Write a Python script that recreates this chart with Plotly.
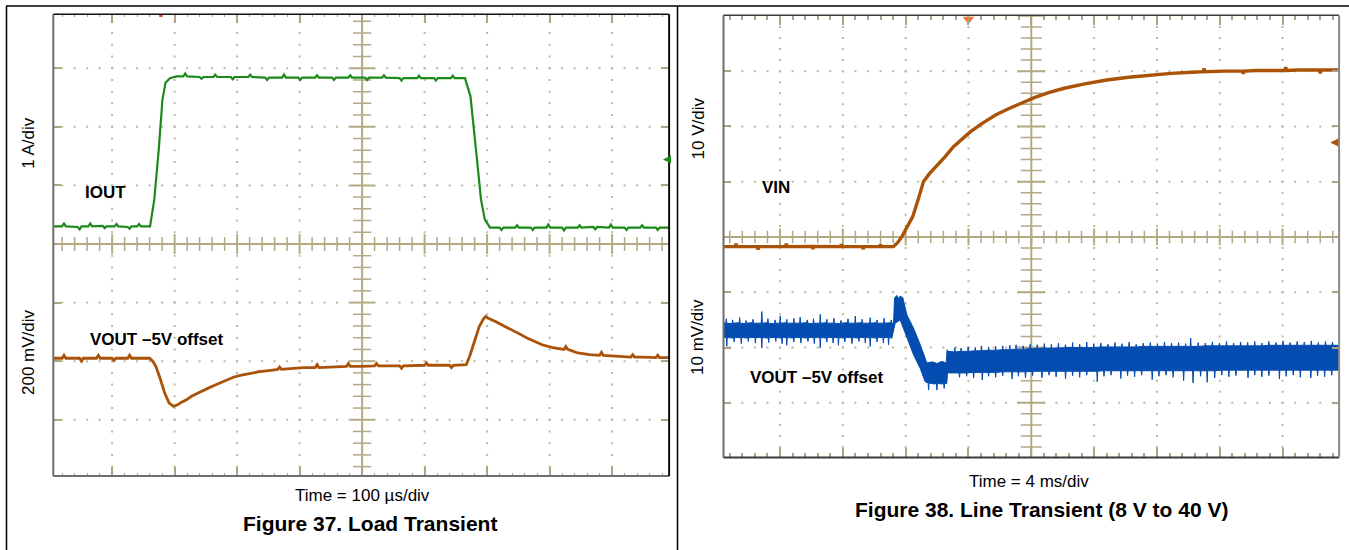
import numpy as np
import plotly.graph_objects as go

W, H = 1349, 550

# ---------------- Figure 37 : Load Transient (time in µs, amplitude in screen divisions) -------------
iout_pts = [(6, 0.30), (20, 0.30), (23, 0.35), (26, 0.30), (45, 0.29), (48, 0.25), (51, 0.30),
            (62, 0.30), (65, 0.35), (68, 0.30), (85, 0.31), (88, 0.27), (91, 0.30), (104, 0.30),
            (107, 0.34), (110, 0.30), (125, 0.29), (128, 0.26), (131, 0.30), (140, 0.30),
            (143, 0.34), (146, 0.30), (160.7, 0.30), (167.5, 0.76), (174.6, 1.61), (180.5, 2.46),
            (185.4, 2.75), (192.4, 2.83), (203, 2.86), (214, 2.86), (217, 2.91), (220, 2.86),
            (240, 2.85), (243, 2.82), (246, 2.85), (262, 2.85), (265, 2.89), (268, 2.85),
            (290, 2.85), (293, 2.81), (296, 2.85), (318, 2.85), (321, 2.89), (324, 2.85),
            (345, 2.84), (348, 2.80), (351, 2.84), (372, 2.84), (375, 2.89), (378, 2.84),
            (398, 2.84), (401, 2.80), (404, 2.84), (425, 2.84), (428, 2.88), (431, 2.84),
            (452, 2.84), (455, 2.80), (458, 2.84), (478, 2.84), (481, 2.88), (484, 2.84),
            (505, 2.84), (508, 2.80), (511, 2.84), (532, 2.84), (535, 2.88), (538, 2.84),
            (560, 2.83), (563, 2.79), (566, 2.83), (588, 2.83), (591, 2.87), (594, 2.83),
            (615, 2.83), (618, 2.79), (621, 2.83), (642, 2.83), (645, 2.87), (648, 2.83),
            (664.6, 2.83), (673.4, 2.52), (683.8, 1.44), (690.2, 0.76), (696.3, 0.42),
            (704.6, 0.28), (720, 0.28), (723, 0.24), (726, 0.28), (745, 0.28), (748, 0.32),
            (751, 0.28), (770, 0.28), (773, 0.24), (776, 0.28), (795, 0.28), (798, 0.33),
            (801, 0.28), (820, 0.28), (823, 0.23), (826, 0.28), (845, 0.28), (848, 0.32),
            (851, 0.28), (870, 0.29), (873, 0.25), (876, 0.29), (895, 0.28), (898, 0.33),
            (901, 0.28), (920, 0.28), (923, 0.24), (926, 0.28), (945, 0.28), (948, 0.32),
            (951, 0.28), (970, 0.28), (973, 0.24), (976, 0.28), (991, 0.28)]

vout37_pts = [(6, -1.95), (20, -1.95), (23, -1.90), (26, -1.95), (48, -1.95), (51, -2.00),
              (54, -1.95), (75, -1.95), (78, -1.90), (81, -1.95), (100, -1.95), (103, -1.99),
              (106, -1.95), (125, -1.95), (128, -1.90), (131, -1.95), (148, -1.95), (160, -1.95),
              (165, -2.00), (170, -2.09), (177, -2.30), (184, -2.54), (191, -2.71), (198, -2.77),
              (204, -2.75), (211, -2.70), (219, -2.66), (227, -2.60), (236, -2.55), (245, -2.50),
              (254, -2.46), (264, -2.41), (275, -2.36), (285, -2.31), (295, -2.27), (307, -2.24),
              (320, -2.21), (335, -2.18), (351, -2.16), (365, -2.14), (368, -2.10), (371, -2.14),
              (380, -2.13), (406, -2.11), (425, -2.11), (428, -2.06), (431, -2.11), (450, -2.10),
              (475, -2.09), (478, -2.04), (481, -2.09), (497, -2.09), (520, -2.08), (523, -2.04),
              (526, -2.08), (560, -2.08), (563, -2.12), (566, -2.08), (600, -2.07), (603, -2.03),
              (606, -2.07), (640, -2.07), (643, -2.11), (646, -2.07), (666.6, -2.06),
              (672, -1.92), (677, -1.75), (687.4, -1.41), (694, -1.28), (697.8, -1.235),
              (702, -1.27), (715, -1.33), (727, -1.40), (739, -1.46), (751, -1.53), (763, -1.60),
              (775, -1.66), (788, -1.72), (805, -1.77), (823, -1.80), (826, -1.75), (829, -1.80),
              (845, -1.86), (864, -1.89), (880, -1.90), (883, -1.85), (886, -1.90), (913, -1.92),
              (930, -1.93), (933, -1.89), (936, -1.93), (950, -1.93), (970, -1.94), (973, -1.90),
              (976, -1.94), (991, -1.94)]

# ---------------- Figure 38 : Line Transient (time in ms, amplitude in screen divisions) -------------
vin_pts = [(0.4, -0.175), (1.15, -0.175), (1.2, -0.12), (1.25, -0.175), (2.55, -0.175),
           (2.6, -0.23), (2.65, -0.175), (4.35, -0.175), (4.4, -0.12), (4.45, -0.175),
           (6.05, -0.17), (6.1, -0.22), (6.15, -0.17), (7.85, -0.175), (7.9, -0.13),
           (7.95, -0.175), (9.25, -0.175), (9.3, -0.22), (9.35, -0.175), (10.35, -0.175),
           (10.4, -0.13), (10.45, -0.175), (11.22, -0.175), (11.5, -0.10), (11.76, 0.005),
           (12.1, 0.18), (12.45, 0.367), (12.8, 0.68), (13.13, 1.0), (13.5, 1.14), (13.94, 1.27),
           (14.5, 1.45), (15.03, 1.63), (15.55, 1.77), (16.11, 1.90), (16.9, 2.06), (17.75, 2.21),
           (18.55, 2.32), (19.38, 2.42), (20.19, 2.52), (21.1, 2.61), (22.1, 2.69), (23.4, 2.77),
           (24.81, 2.84), (26.2, 2.89), (27.53, 2.93), (28.9, 2.96), (30.24, 2.98), (30.95, 2.99),
           (31.0, 3.05), (31.05, 2.99), (32.3, 3.0), (33.45, 3.0), (33.5, 2.95), (33.55, 3.0),
           (34.32, 3.01), (36.15, 3.01), (36.2, 3.07), (36.25, 3.01), (37.0, 3.02), (38.35, 3.02),
           (38.4, 2.96), (38.45, 3.02), (39.6, 3.02)]

vout38_upper = [
    (0.40, -1.56), (0.55, -1.55), (0.58, -1.48), (0.61, -1.56), (0.95, -1.57), (0.98, -1.50),
    (1.01, -1.56), (1.40, -1.55), (1.43, -1.46), (1.46, -1.56), (1.80, -1.57), (1.83, -1.51),
    (1.86, -1.56), (2.25, -1.55), (2.28, -1.49), (2.31, -1.56), (2.80, -1.56), (2.84, -1.35),
    (2.88, -1.56), (3.20, -1.55), (3.23, -1.48), (3.26, -1.56), (3.65, -1.57), (3.68, -1.50),
    (3.71, -1.56), (3.98, -1.56), (4.01, -1.43), (4.04, -1.56), (4.40, -1.55), (4.43, -1.49),
    (4.46, -1.56), (4.85, -1.56), (4.88, -1.47), (4.91, -1.56), (5.25, -1.56), (5.28, -1.45),
    (5.31, -1.56), (5.70, -1.55), (5.73, -1.50), (5.76, -1.56), (6.10, -1.57), (6.13, -1.48),
    (6.16, -1.56), (6.53, -1.56), (6.56, -1.40), (6.59, -1.56), (6.95, -1.55), (6.98, -1.49),
    (7.01, -1.56), (7.40, -1.56), (7.43, -1.47), (7.46, -1.56), (7.85, -1.57), (7.88, -1.51),
    (7.91, -1.56), (8.30, -1.55), (8.33, -1.48), (8.36, -1.56), (8.76, -1.56), (8.79, -1.43),
    (8.82, -1.56), (9.20, -1.55), (9.23, -1.49), (9.26, -1.56), (9.71, -1.56), (9.74, -1.46),
    (9.77, -1.56), (10.15, -1.55), (10.18, -1.50), (10.21, -1.56), (10.60, -1.56),
    (10.63, -1.47), (10.66, -1.56), (11.05, -1.55), (11.08, -1.50), (11.11, -1.56),
    (11.23, -1.56), (11.29, -1.10), (11.45, -1.06), (11.55, -1.12), (11.65, -1.07),
    (11.82, -1.10), (12.08, -1.41), (12.5, -1.65), (12.93, -1.95), (13.24, -2.22),
    (13.35, -2.28), (13.7, -2.26), (14.0, -2.29), (14.3, -2.25), (14.58, -2.28), (14.64, -2.04),
    (14.70, -2.07), (15.10, -2.08), (15.13, -2.00), (15.16, -2.08), (15.50, -2.07),
    (15.53, -2.01), (15.56, -2.07), (15.95, -2.07), (15.98, -1.99), (16.01, -2.07),
    (16.40, -2.06), (16.43, -2.00), (16.46, -2.06), (16.80, -2.06), (16.83, -1.97),
    (16.86, -2.06), (17.25, -2.05), (17.28, -1.99), (17.31, -2.05), (17.70, -2.05),
    (17.73, -1.98), (17.76, -2.05), (18.15, -2.04), (18.18, -1.97), (18.21, -2.04),
    (18.60, -2.04), (18.63, -1.96), (18.66, -2.04), (19.00, -2.03), (19.03, -1.95),
    (19.06, -2.03), (19.45, -2.03), (19.48, -1.97), (19.51, -2.03), (19.90, -2.02),
    (19.93, -1.94), (19.96, -2.02), (20.35, -2.02), (20.38, -1.95), (20.41, -2.02),
    (20.80, -2.01), (20.83, -1.93), (20.86, -2.01), (21.25, -2.01), (21.28, -1.94),
    (21.31, -2.01), (21.70, -2.01), (21.73, -1.92), (21.76, -2.01), (22.15, -2.00),
    (22.18, -1.95), (22.21, -2.00), (22.60, -2.00), (22.63, -1.91), (22.66, -2.00),
    (23.05, -2.00), (23.08, -1.94), (23.11, -2.00), (23.50, -2.00), (23.53, -1.90),
    (23.56, -2.00), (23.95, -2.00), (23.98, -1.93), (24.01, -2.00), (24.40, -1.99),
    (24.43, -1.92), (24.46, -1.99), (24.85, -1.99), (24.88, -1.94), (24.91, -1.99),
    (25.30, -1.99), (25.33, -1.91), (25.36, -1.99), (25.75, -1.99), (25.78, -1.93),
    (25.81, -1.99), (26.20, -1.99), (26.23, -1.90), (26.26, -1.99), (26.65, -1.99),
    (26.68, -1.94), (26.71, -1.99), (27.10, -1.98), (27.13, -1.92), (27.16, -1.98),
    (27.55, -1.98), (27.58, -1.91), (27.61, -1.98), (28.00, -1.98), (28.03, -1.93),
    (28.06, -1.98), (28.45, -1.98), (28.48, -1.90), (28.51, -1.98), (28.90, -1.98),
    (28.93, -1.92), (28.96, -1.98), (29.35, -1.98), (29.38, -1.91), (29.41, -1.98),
    (29.80, -1.98), (29.83, -1.93), (29.86, -1.98), (30.12, -1.98), (30.15, -1.83),
    (30.18, -1.98), (30.60, -1.98), (30.63, -1.91), (30.66, -1.98), (31.05, -1.97),
    (31.08, -1.92), (31.11, -1.97), (31.50, -1.97), (31.53, -1.90), (31.56, -1.97),
    (31.95, -1.97), (31.98, -1.92), (32.01, -1.97), (32.40, -1.97), (32.43, -1.89),
    (32.46, -1.97), (32.85, -1.97), (32.88, -1.92), (32.91, -1.97), (33.30, -1.97),
    (33.33, -1.90), (33.36, -1.97), (33.75, -1.97), (33.78, -1.91), (33.81, -1.97),
    (34.20, -1.97), (34.23, -1.89), (34.26, -1.97), (34.65, -1.97), (34.68, -1.92),
    (34.71, -1.97), (35.10, -1.96), (35.13, -1.89), (35.16, -1.96), (35.55, -1.96),
    (35.58, -1.91), (35.61, -1.96), (36.00, -1.96), (36.03, -1.88), (36.06, -1.96),
    (36.45, -1.96), (36.48, -1.91), (36.51, -1.96), (36.90, -1.96), (36.93, -1.89),
    (36.96, -1.96), (37.35, -1.96), (37.38, -1.90), (37.41, -1.96), (37.80, -1.96),
    (37.83, -1.88), (37.86, -1.96), (38.25, -1.96), (38.28, -1.91), (38.31, -1.96),
    (38.70, -1.96), (38.73, -1.89), (38.76, -1.96), (39.15, -1.96), (39.18, -1.90),
    (39.21, -1.96), (39.60, -1.96)]

vout38_lower = [
    (0.40, -1.82), (0.58, -1.82), (0.61, -1.98), (0.64, -1.82), (1.05, -1.83), (1.08, -1.90),
    (1.11, -1.82), (1.50, -1.82), (1.53, -1.93), (1.56, -1.82), (1.95, -1.83), (1.98, -1.89),
    (2.01, -1.82), (2.40, -1.82), (2.43, -1.92), (2.46, -1.82), (2.81, -1.82), (2.84, -2.01),
    (2.87, -1.82), (3.25, -1.83), (3.28, -1.91), (3.31, -1.82), (3.70, -1.82), (3.73, -1.89),
    (3.76, -1.82), (4.10, -1.83), (4.13, -1.93), (4.16, -1.82), (4.40, -1.82), (4.43, -1.96),
    (4.46, -1.82), (4.85, -1.83), (4.88, -1.90), (4.91, -1.82), (5.30, -1.82), (5.33, -1.92),
    (5.36, -1.82), (5.75, -1.83), (5.78, -1.89), (5.81, -1.82), (6.15, -1.82), (6.18, -1.93),
    (6.21, -1.82), (6.53, -1.82), (6.56, -2.01), (6.59, -1.82), (6.95, -1.83), (6.98, -1.90),
    (7.01, -1.82), (7.35, -1.82), (7.38, -1.92), (7.41, -1.82), (7.69, -1.82), (7.72, -1.96),
    (7.75, -1.82), (8.10, -1.83), (8.13, -1.90), (8.16, -1.82), (8.55, -1.82), (8.58, -1.93),
    (8.61, -1.82), (9.00, -1.83), (9.03, -1.89), (9.06, -1.82), (9.40, -1.82), (9.43, -1.92),
    (9.46, -1.82), (9.71, -1.82), (9.74, -1.98), (9.77, -1.82), (10.15, -1.83),
    (10.18, -1.90), (10.21, -1.82), (10.55, -1.82), (10.58, -1.92), (10.61, -1.82),
    (10.88, -1.82), (10.91, -1.95), (10.94, -1.82), (11.12, -1.83), (11.33, -1.56),
    (11.65, -1.50), (12.08, -1.83), (12.5, -2.13), (12.93, -2.38), (13.24, -2.62),
    (13.43, -2.64), (13.46, -2.77), (13.49, -2.64), (13.8, -2.66), (13.96, -2.65),
    (13.99, -2.77), (14.02, -2.65), (14.3, -2.66), (14.42, -2.65), (14.45, -2.74),
    (14.48, -2.65), (14.62, -2.65), (14.66, -2.46), (15.00, -2.46), (15.40, -2.46),
    (15.43, -2.54), (15.46, -2.46), (15.85, -2.46), (15.88, -2.52), (15.91, -2.46),
    (16.30, -2.45), (16.33, -2.55), (16.36, -2.45), (16.85, -2.45), (16.88, -2.59),
    (16.91, -2.45), (17.25, -2.45), (17.28, -2.52), (17.31, -2.45), (17.70, -2.45),
    (17.73, -2.54), (17.76, -2.45), (18.15, -2.44), (18.18, -2.51), (18.21, -2.44),
    (18.75, -2.44), (18.78, -2.57), (18.81, -2.44), (19.15, -2.44), (19.18, -2.52),
    (19.21, -2.44), (19.60, -2.44), (19.63, -2.55), (19.66, -2.44), (20.05, -2.43),
    (20.08, -2.51), (20.11, -2.43), (20.65, -2.43), (20.68, -2.55), (20.71, -2.43),
    (21.10, -2.43), (21.13, -2.50), (21.16, -2.43), (21.55, -2.43), (21.58, -2.53),
    (21.61, -2.43), (22.15, -2.43), (22.18, -2.57), (22.21, -2.43), (22.60, -2.43),
    (22.63, -2.51), (22.66, -2.43), (23.05, -2.43), (23.08, -2.54), (23.11, -2.43),
    (23.50, -2.43), (23.53, -2.50), (23.56, -2.43), (24.17, -2.43), (24.20, -2.62),
    (24.23, -2.43), (24.60, -2.42), (24.63, -2.52), (24.66, -2.42), (25.05, -2.42),
    (25.08, -2.50), (25.11, -2.42), (25.67, -2.42), (25.70, -2.56), (25.73, -2.42),
    (26.10, -2.42), (26.13, -2.51), (26.16, -2.42), (26.55, -2.42), (26.58, -2.53),
    (26.61, -2.42), (27.00, -2.42), (27.03, -2.50), (27.06, -2.42), (27.67, -2.42),
    (27.70, -2.58), (27.73, -2.42), (28.10, -2.42), (28.13, -2.52), (28.16, -2.42),
    (28.55, -2.42), (28.58, -2.50), (28.61, -2.42), (29.00, -2.42), (29.03, -2.54),
    (29.06, -2.42), (29.67, -2.42), (29.70, -2.60), (29.73, -2.42), (30.27, -2.42),
    (30.30, -2.64), (30.33, -2.42), (30.75, -2.42), (30.78, -2.52), (30.81, -2.42),
    (31.17, -2.42), (31.20, -2.63), (31.23, -2.42), (31.65, -2.42), (31.68, -2.55),
    (31.71, -2.42), (32.10, -2.41), (32.13, -2.50), (32.16, -2.41), (32.55, -2.41),
    (32.58, -2.53), (32.61, -2.41), (33.00, -2.41), (33.03, -2.51), (33.06, -2.41),
    (33.77, -2.41), (33.80, -2.55), (33.83, -2.41), (34.20, -2.41), (34.23, -2.50),
    (34.26, -2.41), (34.65, -2.41), (34.68, -2.53), (34.71, -2.41), (35.10, -2.41),
    (35.13, -2.51), (35.16, -2.41), (35.77, -2.41), (35.80, -2.57), (35.83, -2.41),
    (36.20, -2.41), (36.23, -2.52), (36.26, -2.41), (36.65, -2.41), (36.68, -2.50),
    (36.71, -2.41), (37.10, -2.41), (37.13, -2.54), (37.16, -2.41), (37.77, -2.41),
    (37.80, -2.55), (37.83, -2.41), (38.20, -2.41), (38.23, -2.51), (38.26, -2.41),
    (38.65, -2.41), (38.68, -2.53), (38.71, -2.41), (39.10, -2.41), (39.13, -2.50),
    (39.16, -2.41), (39.60, -2.41)]

# channel ground-reference markers and trigger positions
iout_ref_div = 1.44
vin_ref_div = 1.71
trig37_t = 177.8
trig38_t = 16.0

# ---------------- styling constants ----------------
GREEN = "#1b8a1b"
BROWN = "#aa5208"
BLUE = "#054cb0"
DOT = "#bcb79d"
CENTER = "#b3a984"
TICK = "#aba488"
FONT = "Liberation Sans, Arial, Helvetica, sans-serif"

L_XDOM = [53.3 / W, 669.1 / W]
L_YDOM = [1 - 476 / H, 1 - 14.3 / H]
R_XDOM = [723.5 / W, 1339.1 / W]
R_YDOM = [1 - 457.5 / H, 1 - 15.3 / H]
L_YRNG = [-3.96, 3.92]
R_YRNG = [-3.99, 4.01]

fig = go.Figure()


def unzip(pts):
    return [p[0] for p in pts], [p[1] for p in pts]


def scope_grid(xa, ya, unit, yrng, ctick_h, ctick_h_major, ctick_v, ctick_v_major):
    """oscilloscope graticule: dotted major lines + ticked centre cross"""
    sub = unit / 5.0
    xs_major = [k * unit for k in range(1, 10) if k != 5]
    ys_minor = np.round(np.arange(-20, 21) * 0.2, 3)
    ys_minor = [v for v in ys_minor if yrng[0] < v < yrng[1]]
    xs_minor = [k * sub for k in range(1, 50)]
    ys_major = [-3, -2, -1, 1, 2, 3]
    dx, dy = [], []
    for xv in xs_major:
        for yv in ys_minor:
            dx.append(xv)
            dy.append(yv)
    for yv in ys_major:
        for xv in xs_minor:
            dx.append(xv)
            dy.append(yv)
    fig.add_trace(go.Scatter(x=dx, y=dy, xaxis=xa, yaxis=ya, mode="markers",
                             marker=dict(symbol="square", size=2, color=DOT, line=dict(width=0)),
                             hoverinfo="skip", showlegend=False))
    cx = 5 * unit
    fig.add_shape(type="line", xref=xa, yref=ya + " domain", x0=cx, x1=cx, y0=0, y1=1,
                  line=dict(color=CENTER, width=2), layer="below")
    fig.add_shape(type="line", xref=xa + " domain", yref=ya, x0=0, x1=1, y0=0, y1=0,
                  line=dict(color=CENTER, width=2), layer="below")
    tmin = [k * sub for k in range(1, 50) if k % 5 != 0]
    tmaj = [k * unit for k in range(1, 10)]
    fig.add_trace(go.Scatter(x=tmin, y=[0] * len(tmin), xaxis=xa, yaxis=ya, mode="markers",
                             marker=dict(symbol="line-ns", size=ctick_h,
                                         line=dict(color=CENTER, width=1.5)),
                             hoverinfo="skip", showlegend=False))
    fig.add_trace(go.Scatter(x=tmaj, y=[0] * len(tmaj), xaxis=xa, yaxis=ya, mode="markers",
                             marker=dict(symbol="line-ns", size=ctick_h_major,
                                         line=dict(color=CENTER, width=2)),
                             hoverinfo="skip", showlegend=False))
    vmin = [v for v in ys_minor if abs(v - round(v)) > 1e-6]
    vmaj = [v for v in range(-4, 5) if yrng[0] < v < yrng[1] and v != 0]
    fig.add_trace(go.Scatter(x=[cx] * len(vmin), y=vmin, xaxis=xa, yaxis=ya, mode="markers",
                             marker=dict(symbol="line-ew", size=ctick_v,
                                         line=dict(color=CENTER, width=1.5)),
                             hoverinfo="skip", showlegend=False))
    fig.add_trace(go.Scatter(x=[cx] * len(vmaj), y=vmaj, xaxis=xa, yaxis=ya, mode="markers",
                             marker=dict(symbol="line-ew", size=ctick_v_major,
                                         line=dict(color=CENTER, width=2)),
                             hoverinfo="skip", showlegend=False))


scope_grid("x", "y", 100, L_YRNG, 10, 14, 13, 17)
scope_grid("x2", "y2", 4, R_YRNG, 9, 12, 15, 20)

# ---------------- waveforms ----------------
tx, ty = unzip(iout_pts)
fig.add_trace(go.Scatter(x=tx, y=ty, xaxis="x", yaxis="y", mode="lines",
                         line=dict(color=GREEN, width=2.2), hoverinfo="skip", showlegend=False))
tx, ty = unzip(vout37_pts)
fig.add_trace(go.Scatter(x=tx, y=ty, xaxis="x", yaxis="y", mode="lines",
                         line=dict(color=BROWN, width=2.8), hoverinfo="skip", showlegend=False))
tx, ty = unzip(vin_pts)
fig.add_trace(go.Scatter(x=tx, y=ty, xaxis="x2", yaxis="y2", mode="lines",
                         line=dict(color=BROWN, width=3.4), hoverinfo="skip", showlegend=False))
ux, uy = unzip(vout38_upper)
lx, ly = unzip(vout38_lower)
fig.add_trace(go.Scatter(x=ux + lx[::-1], y=uy + ly[::-1], xaxis="x2", yaxis="y2", mode="lines",
                         fill="toself", fillcolor=BLUE, line=dict(color=BLUE, width=1),
                         hoverinfo="skip", showlegend=False))

# trigger markers
fig.add_trace(go.Scatter(x=[trig37_t], y=[L_YRNG[1] - 0.02], xaxis="x", yaxis="y", mode="markers",
                         marker=dict(symbol="square", size=3, color="#e0401a"),
                         cliponaxis=False, hoverinfo="skip", showlegend=False))
fig.add_trace(go.Scatter(x=[trig38_t], y=[3.94], xaxis="x2", yaxis="y2", mode="markers",
                         marker=dict(symbol="triangle-down", size=10, color="#ff6f2a",
                                     line=dict(width=0)),
                         cliponaxis=False, hoverinfo="skip", showlegend=False))

# ---------------- axes ----------------
common = dict(showgrid=False, zeroline=False, showticklabels=False, showline=False,
              ticks="inside", tickcolor=TICK, mirror="ticks", fixedrange=True)
fig.update_layout(
    xaxis=dict(domain=L_XDOM, range=[5.9, 991.2], anchor="y", tick0=0, dtick=100, ticklen=9,
               tickwidth=2, minor=dict(ticks="inside", dtick=20, ticklen=3, tickwidth=1,
                                       tickcolor=TICK), **common),
    yaxis=dict(domain=L_YDOM, range=L_YRNG, anchor="x", tick0=0, dtick=1, ticklen=8,
               tickwidth=2, **common),
    xaxis2=dict(domain=R_XDOM, range=[0.4, 39.6], anchor="y2", tick0=0, dtick=4, ticklen=10,
                tickwidth=2, minor=dict(ticks="inside", dtick=0.8, ticklen=5, tickwidth=1.5,
                                        tickcolor=TICK), **common),
    yaxis2=dict(domain=R_YDOM, range=R_YRNG, anchor="x2", tick0=0, dtick=1, ticklen=7,
                tickwidth=2, **common),
)


def edge(xa, ya, x0, x1, y0, y1, color, width):
    fig.add_shape(type="line", xref=xa + " domain", yref=ya + " domain", x0=x0, x1=x1,
                  y0=y0, y1=y1, line=dict(color=color, width=width), layer="above")


edge("x", "y", 0, 0, 0, 1, "#6e6e6e", 2)
edge("x", "y", 0, 1, 0, 0, "#6e6e6e", 2)
edge("x", "y", 0, 1, 1, 1, "#111111", 1.5)
edge("x", "y", 1, 1, 0, 1, "#111111", 2)
edge("x2", "y2", 0, 0, 0, 1, "#6e6e6e", 2)
edge("x2", "y2", 0, 1, 0, 0, "#3a3a3a", 2)
edge("x2", "y2", 0, 1, 1, 1, "#3a3a3a", 1.5)
edge("x2", "y2", 1, 1, 0, 1, "#8a8a8a", 2)

# page frame lines
for (x0, y0, x1, y1) in [(6, 6, W, 6), (6.5, 6, 6.5, H), (677.5, 6, 677.5, H)]:
    fig.add_shape(type="line", xref="paper", yref="paper", x0=x0 / W, x1=x1 / W,
                  y0=1 - y0 / H, y1=1 - y1 / H, line=dict(color="#000000", width=1.5))

# channel reference arrows
fig.add_annotation(x=981.4, y=iout_ref_div, xref="x", yref="y", ax=8, ay=0, text="",
                   showarrow=True, arrowhead=2, arrowsize=0.8, arrowwidth=2, arrowcolor=GREEN)
fig.add_annotation(x=39.04, y=vin_ref_div, xref="x2", yref="y2", ax=9, ay=0, text="",
                   showarrow=True, arrowhead=2, arrowsize=0.8, arrowwidth=2, arrowcolor=BROWN)


# ---------------- texts ----------------
def txt(s, xpx, ypx, size=17, bold=False, angle=0, xanchor="center"):
    fig.add_annotation(x=xpx / W, y=1 - ypx / H, xref="paper", yref="paper",
                       text=("<b>%s</b>" % s) if bold else s, showarrow=False,
                       xanchor=xanchor, yanchor="middle", textangle=angle,
                       font=dict(family=FONT, size=size, color="#000000"))


txt("1 A/div", 28.5, 143.3, angle=-90)
txt("200 mV/div", 28.5, 352.5, angle=-90)
txt("10 V/div", 697.5, 129, angle=-90)
txt("10 mV/div", 697.5, 337.5, angle=-90)
txt("IOUT", 105.6, 192, bold=True)
txt("VOUT \u20135V offset", 156.5, 339.5, bold=True)
txt("VIN", 776, 187, bold=True)
txt("VOUT \u20135V offset", 816.7, 377.5, bold=True)
txt("Time = 100 \u00b5s/div", 362, 495)
txt("Figure 37. Load Transient", 370, 523, size=21, bold=True)
txt("Time = 4 ms/div", 1029, 481.5)
txt("Figure 38. Line Transient (8 V to 40 V)", 1041, 509.5, size=21, bold=True)

fig.update_layout(width=W, height=H, margin=dict(l=0, r=0, t=0, b=0, pad=0),
                  paper_bgcolor="white", plot_bgcolor="white", showlegend=False,
                  font=dict(family=FONT))

fig.write_html("out.html", config={"displayModeBar": False},
               post_script="document.body.style.margin='0';document.body.style.overflow='hidden';")
